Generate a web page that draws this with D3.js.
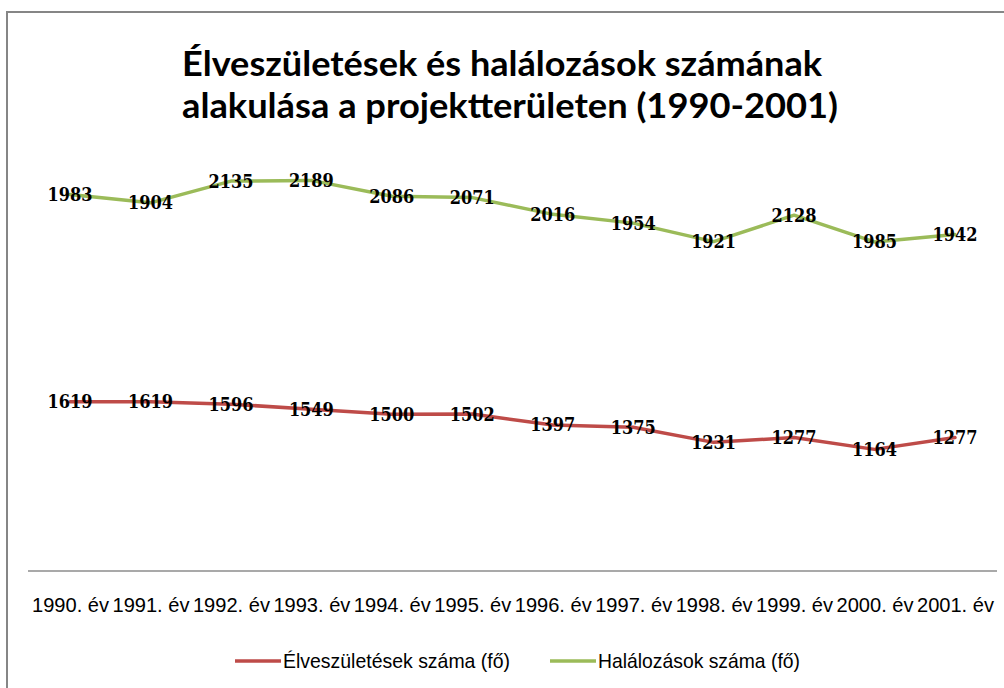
<!DOCTYPE html>
<html>
<head>
<meta charset="utf-8">
<script src="https://cdn.jsdelivr.net/npm/d3@7"></script>
<style>
  html, body { margin: 0; padding: 0; background: #fff; }
  svg { display: block; }
</style>
</head>
<body>
<svg id="chart" width="1004" height="688"></svg>
<script>
const categories = ["1990. év","1991. év","1992. év","1993. év","1994. év","1995. év","1996. év","1997. év","1998. év","1999. év","2000. év","2001. év"];
const births = [1619,1619,1596,1549,1500,1502,1397,1375,1231,1277,1164,1277];
const deaths = [1983,1904,2135,2189,2086,2071,2016,1954,1921,2128,1985,1942];
const seriesNames = ["Élveszületések száma (fő)", "Halálozások száma (fő)"];
const titleLines = ["Élveszületések és halálozások számának", "alakulása a projektterületen (1990-2001)"];
const colors = ["#be4b48", "#9bbb59"];

const svg = d3.select("#chart");

// outer frame
svg.append("rect").attr("x", 7).attr("y", 12).attr("width", 1010).attr("height", 700)
  .attr("fill", "#fff").attr("stroke", "#868686").attr("stroke-width", 2);

// title
const titleFont = "Lato, 'Open Sans', sans-serif";
svg.append("text").attr("x", 502).attr("y", 76).attr("text-anchor", "middle")
  .attr("font-family", titleFont).attr("font-weight", "bold").attr("font-size", 34)
  .attr("textLength", 640).attr("lengthAdjust", "spacingAndGlyphs")
  .text(titleLines[0]);
svg.append("text").attr("x", 510).attr("y", 118).attr("text-anchor", "middle")
  .attr("font-family", titleFont).attr("font-weight", "bold").attr("font-size", 34)
  .attr("textLength", 656).attr("lengthAdjust", "spacingAndGlyphs")
  .text(titleLines[1]);

// plot area
const plot = { left: 29.8, right: 995.2, top: 153, bottom: 571 };
const x = d3.scalePoint().domain(categories).range([plot.left, plot.right]).padding(0.5);
const y = d3.scaleLinear().domain([0, 4000]).range([plot.bottom, plot.top]);

// stacked series
const table = categories.map((c, i) => ({ cat: c, b: births[i], d: deaths[i] }));
const stack = d3.stack().keys(["b", "d"])(table);

// axis
const xAxis = d3.axisBottom(x).tickSize(0).tickPadding(0);
const ax = svg.append("g").attr("transform", `translate(0,${plot.bottom})`).call(xAxis);
ax.select(".domain").remove();
svg.append("line").attr("x1", 28).attr("x2", 997).attr("y1", plot.bottom).attr("y2", plot.bottom)
  .attr("stroke", "#8c8c8c").attr("stroke-width", 1.5);
ax.selectAll("text")
  .attr("y", 41).attr("dy", null)
  .attr("fill", "#000")
  .attr("font-family", "'Liberation Sans Narrow', 'Liberation Sans', Arial, sans-serif")
  .attr("font-size", 21)
  .attr("textLength", 77).attr("lengthAdjust", "spacingAndGlyphs");

// lines
const line = d3.line().x(d => x(d.data.cat)).y(d => y(d[1]));
stack.forEach((s, k) => {
  svg.append("path").datum(s).attr("d", line)
    .attr("fill", "none").attr("stroke", colors[k]).attr("stroke-width", 3.5)
    .attr("stroke-linejoin", "round").attr("stroke-linecap", "round");
});

// data labels (centered on points)
const vals = [births, deaths];
stack.forEach((s, k) => {
  svg.append("g").selectAll("text").data(s).join("text")
    .attr("x", d => x(d.data.cat))
    .attr("y", d => y(d[1]))
    .attr("dy", "0.36em")
    .attr("text-anchor", "middle")
    .attr("font-family", "'DejaVu Serif', serif")
    .attr("font-weight", "bold")
    .attr("font-size", 18)
    .attr("textLength", 45).attr("lengthAdjust", "spacingAndGlyphs")
    .attr("fill", "#000")
    .text((d, i) => vals[k][i]);
});

// legend
const legY = 661;
const legItems = [{ x: 235, tx: 283 }, { x: 550, tx: 598 }];
legItems.forEach((li, k) => {
  svg.append("line").attr("x1", li.x).attr("x2", li.x + 46).attr("y1", legY).attr("y2", legY)
    .attr("stroke", colors[k]).attr("stroke-width", 3.5);
  svg.append("text").attr("x", li.tx).attr("y", legY).attr("dy", "0.35em")
    .attr("font-family", "'Liberation Sans Narrow', 'Liberation Sans', Arial, sans-serif")
    .attr("font-size", 21)
    .attr("textLength", k === 0 ? 227 : 202).attr("lengthAdjust", "spacingAndGlyphs")
    .text(seriesNames[k]);
});
</script>
</body>
</html>
